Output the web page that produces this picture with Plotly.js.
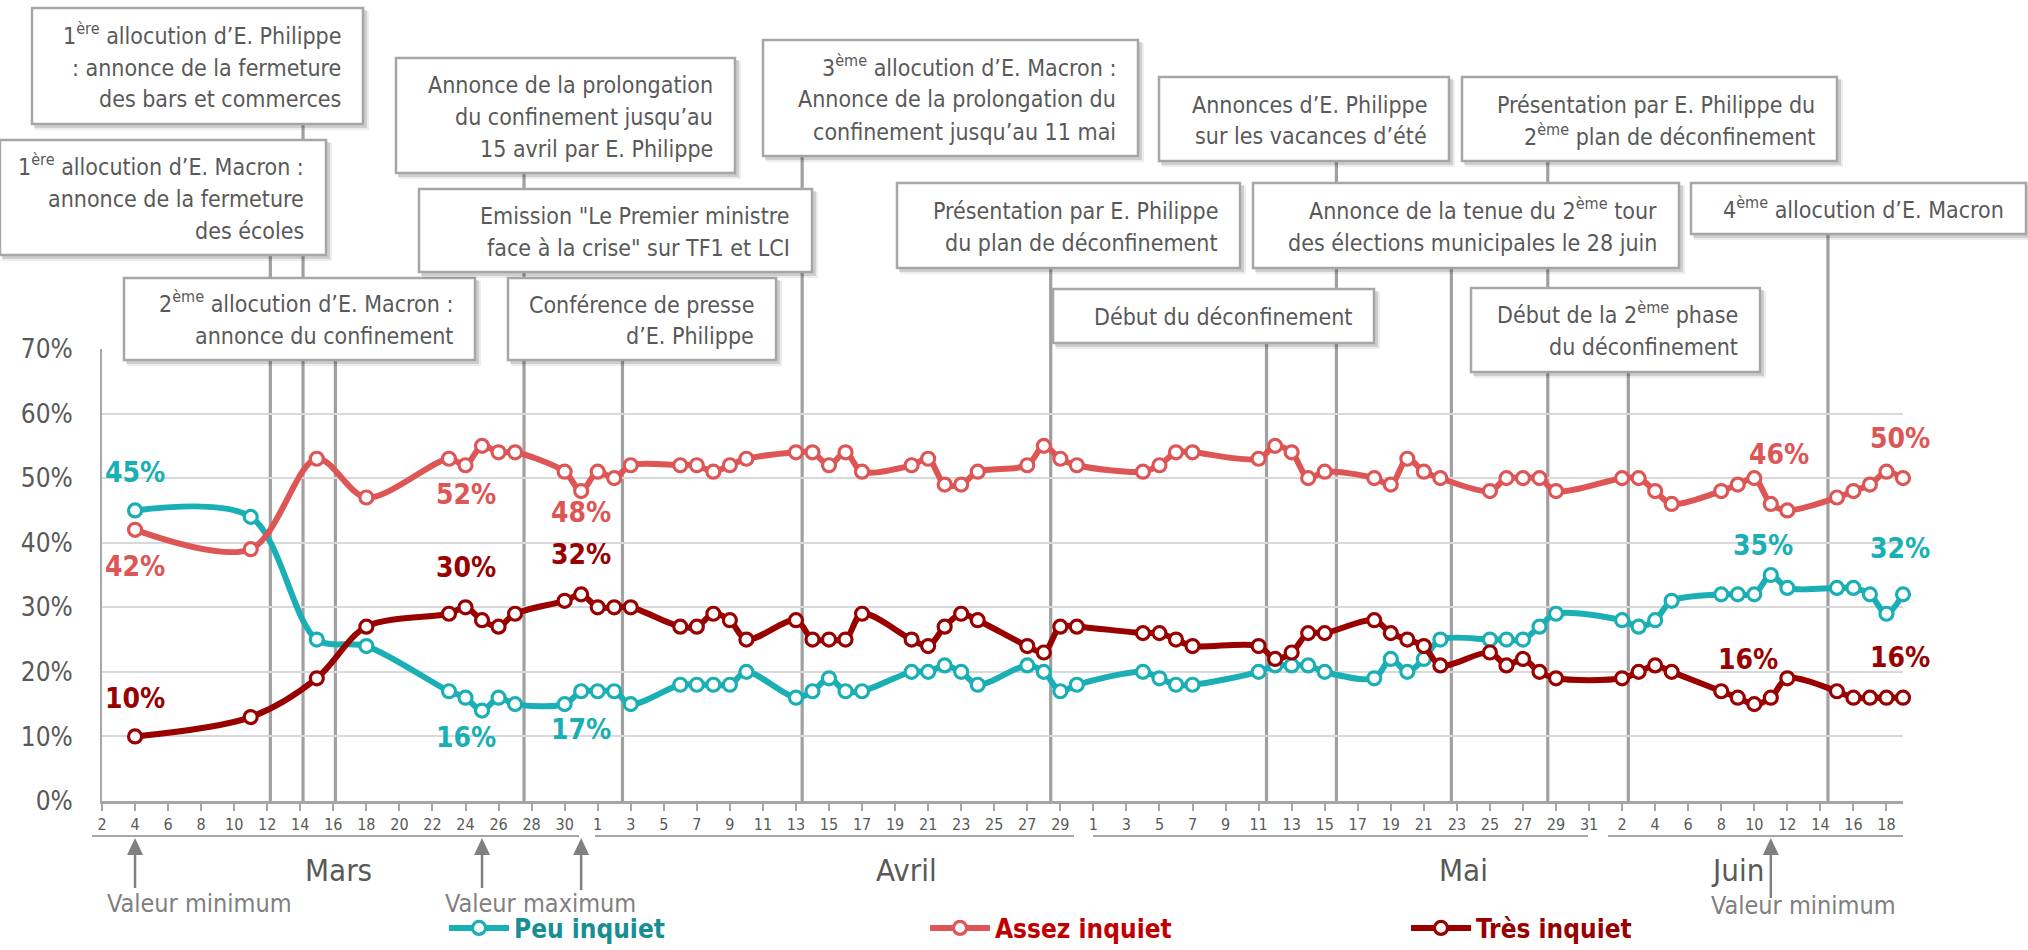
<!DOCTYPE html>
<html><head><meta charset="utf-8">
<script src="https://cdn.plot.ly/plotly-3.0.1.min.js"></script>
<style>html,body{margin:0;padding:0;background:#fff;}#chart{width:2028px;height:950px;}</style>
</head><body><div id="chart"></div>
<script>
// ---------------- DATA ----------------
const dates = [
 '2020-03-04','2020-03-11','2020-03-15','2020-03-18','2020-03-23','2020-03-24','2020-03-25','2020-03-26','2020-03-27','2020-03-30','2020-03-31',
 '2020-04-01','2020-04-02','2020-04-03','2020-04-06','2020-04-07','2020-04-08','2020-04-09','2020-04-10','2020-04-13','2020-04-14','2020-04-15','2020-04-16','2020-04-17','2020-04-20','2020-04-21','2020-04-22','2020-04-23','2020-04-24','2020-04-27','2020-04-28','2020-04-29','2020-04-30',
 '2020-05-04','2020-05-05','2020-05-06','2020-05-07','2020-05-11','2020-05-12','2020-05-13','2020-05-14','2020-05-15','2020-05-18','2020-05-19','2020-05-20','2020-05-21','2020-05-22','2020-05-25','2020-05-26','2020-05-27','2020-05-28','2020-05-29',
 '2020-06-02','2020-06-03','2020-06-04','2020-06-05','2020-06-08','2020-06-09','2020-06-10','2020-06-11','2020-06-12','2020-06-15','2020-06-16','2020-06-17','2020-06-18','2020-06-19'
];
const peuInquiet = [
 45,44,25,24,17,16,14,16,15,15,17,
 17,17,15,18,18,18,18,20,16,17,19,17,17,20,20,21,20,18,21,20,17,18,
 20,19,18,18,20,21,21,21,20,19,22,20,22,25,25,25,25,27,29,
 28,27,28,31,32,32,32,35,33,33,33,32,29,32
];
const assezInquiet = [
 42,39,53,47,53,52,55,54,54,51,48,
 51,50,52,52,52,51,52,53,54,54,52,54,51,52,53,49,49,51,52,55,53,52,
 51,52,54,54,53,55,54,50,51,50,49,53,51,50,48,50,50,50,48,
 50,50,48,46,48,49,50,46,45,47,48,49,51,50
];
const tresInquiet = [
 10,13,19,27,29,30,28,27,29,31,32,
 30,30,30,27,27,29,28,25,28,25,25,25,29,25,24,27,29,28,24,23,27,27,
 26,26,25,24,24,22,23,26,26,28,26,25,24,21,23,21,22,20,19,
 19,20,21,20,17,16,15,16,19,17,16,16,16,16
];
const seriesNames = ['Peu inquiet','Assez inquiet','Très inquiet'];

// tick labels (days shown under the axis)
const marsTicks  = [2,4,6,8,10,12,14,16,18,20,22,24,26,28,30];
const avrilTicks = [1,3,5,7,9,11,13,15,17,19,21,23,25,27,29];
const maiTicks   = [1,3,5,7,9,11,13,15,17,19,21,23,25,27,29,31];
const juinTicks  = [2,4,6,8,10,12,14,16,18];
const monthNames = ['Mars','Avril','Mai','Juin'];

// events (date/time of the vertical line) and their boxes
const eventDates = ['2020-03-12 04:30','2020-03-14 04:00','2020-03-16 03:00','2020-03-27 13:00','2020-04-02 12:00',
  '2020-04-13 09:00','2020-04-28 10:00','2020-05-11 11:30','2020-05-15 17:00','2020-05-22 16:00','2020-05-28 12:00',
  '2020-06-02 09:00','2020-06-14 11:00'];
const eventTexts = [
 ['1<sup>ère</sup> allocution d’E. Philippe', ': annonce de la fermeture', 'des bars et commerces'],
 ['1<sup>ère</sup> allocution d’E. Macron :', 'annonce de la fermeture', 'des écoles'],
 ['2<sup>ème</sup> allocution d’E. Macron :', 'annonce du confinement'],
 ['Annonce de la prolongation', 'du confinement jusqu’au', '15 avril par E. Philippe'],
 ['Emission "Le Premier ministre', 'face à la crise" sur TF1 et LCI'],
 ['Conférence de presse', 'd’E. Philippe'],
 ['3<sup>ème</sup> allocution d’E. Macron :', 'Annonce de la prolongation du', 'confinement jusqu’au 11 mai'],
 ['Présentation par E. Philippe', 'du plan de déconfinement'],
 ['Annonces d’E. Philippe', 'sur les vacances d’été'],
 ['Annonce de la tenue du 2<sup>ème</sup> tour', 'des élections municipales le 28 juin'],
 ['Début du déconfinement'],
 ['Présentation par E. Philippe du', '2<sup>ème</sup> plan de déconfinement'],
 ['4<sup>ème</sup> allocution d’E. Macron'],
 ['Début de la 2<sup>ème</sup> phase', 'du déconfinement']
];
// labelled points: [series index, date]
const labelPoints = [
 [0,'2020-03-04'],[1,'2020-03-04'],[2,'2020-03-04'],
 [1,'2020-03-24'],[2,'2020-03-24'],[0,'2020-03-24'],
 [1,'2020-03-31'],[2,'2020-03-31'],[0,'2020-03-31'],
 [1,'2020-06-11'],[0,'2020-06-11'],[2,'2020-06-11'],
 [1,'2020-06-19'],[0,'2020-06-19'],[2,'2020-06-19']
];
const arrowDates = ['2020-03-04','2020-03-25','2020-03-31','2020-06-11'];
const arrowTexts = ['Valeur minimum','Valeur maximum','Valeur minimum'];

// ---------------- STYLE / LAYOUT ----------------
const W=2028, H=950;
const M={l:102, r:125, t:349, b:149};
const PW=W-M.l-M.r, PH=H-M.t-M.b;
const X_START='2020-03-02', X_END='2020-06-19';
const px = x => (x-M.l)/PW;
const py = y => (H-M.b-y)/PH;
const dateToPaper = d => (Date.parse(d)-Date.parse(X_START))/(Date.parse(X_END)-Date.parse(X_START));
const FONT = "'Liberation Sans Narrow', 'DejaVu Sans Condensed', sans-serif";
const colors = ['#19afb4','#dd5555','#990000'];
const legendTextColors = ['#178f94','#c00000','#990000'];
const allSeries = [peuInquiet, assezInquiet, tresInquiet];

const traces = allSeries.map((vals,i)=>({
  type:'scatter', mode:'lines+markers', x:dates, y:vals,
  name:'<b><span style="color:'+legendTextColors[i]+'">'+seriesNames[i]+'</span></b>',
  line:{color:colors[i], width:6, shape:'spline', smoothing:0.9},
  marker:{symbol:'circle', size:13, color:'#ffffff', line:{color:colors[i], width:3.2}},
  cliponaxis:false, hoverinfo:'skip'
}));

// ticks
const tickvals=[], ticktext=[];
[[3,marsTicks],[4,avrilTicks],[5,maiTicks],[6,juinTicks]].forEach(([m,arr])=>{
  arr.forEach(d=>{ tickvals.push('2020-'+String(m).padStart(2,'0')+'-'+String(d).padStart(2,'0')); ticktext.push(String(d)); });
});

// boxes geometry (pixels): left, top, right, bottom
const boxGeom = [
 [32,8,363,124],[0,140,326,255],[124,278,475,360],[396,58,735,173],[419,189,812,272],[508,278,776,360],
 [763,40,1138,156],[897,183,1240,268],[1159,77,1449,161],[1253,183,1679,268],[1053,289,1374,343],
 [1462,77,1837,161],[1691,183,2026,234],[1471,288,1760,372]
];
// top of each event line (pixels)
const eventTop = [255,124,360,173,360,156,268,343,161,268,161,372,234];

const shapes=[];
eventDates.forEach((d,i)=>{
  shapes.push({type:'line', xref:'x', yref:'paper', x0:d, x1:d, y0:py(eventTop[i]), y1:0,
    line:{color:'#a0a0a0', width:3.2}, layer:'below'});
});
const annotations=[];
const LINE_GAP=32;
boxGeom.forEach((b,i)=>{
  const [l,t,r,bt]=b;
  shapes.push({type:'rect', xref:'paper', yref:'paper', x0:px(l+3), x1:px(r+6), y0:py(bt+6), y1:py(t+3),
    line:{width:0}, fillcolor:'rgba(0,0,0,0.07)', layer:'above'});
  shapes.push({type:'rect', xref:'paper', yref:'paper', x0:px(l+2), x1:px(r+4), y0:py(bt+4), y1:py(t+2),
    line:{width:0}, fillcolor:'rgba(0,0,0,0.13)', layer:'above'});
  shapes.push({type:'rect', xref:'paper', yref:'paper', x0:px(l), x1:px(r), y0:py(bt), y1:py(t),
    line:{color:'#a6a6a6', width:2.5}, fillcolor:'#ffffff', layer:'above'});
  const lines=eventTexts[i], n=lines.length, cy=(t+bt)/2+1.5;
  lines.forEach((txt,k)=>{
    const ly = cy + LINE_GAP*(k-(n-1)/2) + (txt.indexOf('<sup>')>=0 ? -2 : 0);
    annotations.push({xref:'paper', yref:'paper', x:px(r-20), y:py(ly), xanchor:'right', yanchor:'middle',
      align:'right', showarrow:false, text:txt, font:{family:FONT, size:23, color:'#595959'}});
  });
});

// month separators (pixels) and month labels
const sepGeom = [[92,579],[595,1074],[1093,1588],[1608,1903]];
sepGeom.forEach(s=>shapes.push({type:'line', xref:'paper', yref:'paper', x0:px(s[0]), x1:px(s[1]), y0:py(836), y1:py(836),
  line:{color:'#a6a6a6', width:2}}));
const monthX=[338,906,1463,1737];
monthNames.forEach((m,i)=>annotations.push({xref:'paper', yref:'paper', x:px(monthX[i]), y:py(870), xanchor:'center', yanchor:'middle',
  showarrow:false, text:m, font:{family:FONT, size:31, color:'#595959'}}));

// arrows (drawn as shapes: shaft + head)
const arrowTail=[888,888,890,898];
const headTop=838, headLen=17, headHalf=8;
arrowDates.forEach((d,i)=>{
  const xp=dateToPaper(d), hw=headHalf/PW;
  shapes.push({type:'line', xref:'paper', yref:'paper', x0:xp, x1:xp, y0:py(headTop+headLen-2), y1:py(arrowTail[i]),
    line:{color:'#808080', width:2.5}});
  shapes.push({type:'path', xref:'paper', yref:'paper',
    path:'M'+xp+','+py(headTop)+' L'+(xp+hw)+','+py(headTop+headLen)+' L'+(xp-hw)+','+py(headTop+headLen)+' Z',
    fillcolor:'#808080', line:{width:0}});
});
const arrowTextX=[199,540,1803], arrowTextY=[903,903,905];
arrowTexts.forEach((t,i)=>annotations.push({xref:'paper', yref:'paper', x:px(arrowTextX[i]), y:py(arrowTextY[i]), xanchor:'center', yanchor:'middle',
  showarrow:false, text:t, font:{family:FONT, size:25, color:'#808080'}}));

// data labels
const labelShift = [
 [0,38],[0,-37],[0,38],
 [0,-29],[0,40],[0,-40],
 [0,-21],[0,40],[0,-38],
 [8,49],[-8,30],[-23,38],
 [-3,40],[-3,46],[-3,40]
];
labelPoints.forEach(([s,d],i)=>{
  const idx=dates.indexOf(d); const v=allSeries[s][idx];
  annotations.push({xref:'x', yref:'y', x:d, y:v, xshift:labelShift[i][0], yshift:labelShift[i][1], showarrow:false,
    text:'<b>'+v+'%</b>', font:{family:FONT, size:28, color:colors[s]}});
});

const layout = {
  width:W, height:H, margin:{l:M.l, r:M.r, t:M.t, b:M.b, pad:0, autoexpand:false},
  paper_bgcolor:'#ffffff', plot_bgcolor:'#ffffff',
  font:{family:FONT, color:'#595959'},
  showlegend:true,
  legend:{orientation:'h', x:px(444), xanchor:'left', y:py(928), yanchor:'middle',
    font:{family:FONT, size:26}, itemwidth:60, entrywidth:406, traceorder:'normal', bgcolor:'rgba(0,0,0,0)'},
  xaxis:{type:'date', range:[X_START, X_END], tickmode:'array', tickvals:tickvals, ticktext:ticktext,
    showgrid:false, zeroline:false, showline:true, linecolor:'#a6a6a6', linewidth:3,
    ticks:'outside', ticklen:7, tickwidth:2, tickcolor:'#a6a6a6',
    tickfont:{family:FONT, size:16, color:'#595959'}, fixedrange:true, automargin:false},
  yaxis:{range:[0,70], dtick:10, tick0:0, ticksuffix:'%', showgrid:true, gridcolor:'#d9d9d9', gridwidth:2,
    zeroline:false, showline:true, linecolor:'#a6a6a6', linewidth:2, ticks:'', ticklabelstandoff:22,
    tickfont:{family:FONT, size:26, color:'#595959'}, fixedrange:true, automargin:false},
  shapes:shapes, annotations:annotations, hovermode:false
};
Plotly.newPlot('chart', traces, layout, {staticPlot:true, displayModeBar:false});
</script></body></html>
